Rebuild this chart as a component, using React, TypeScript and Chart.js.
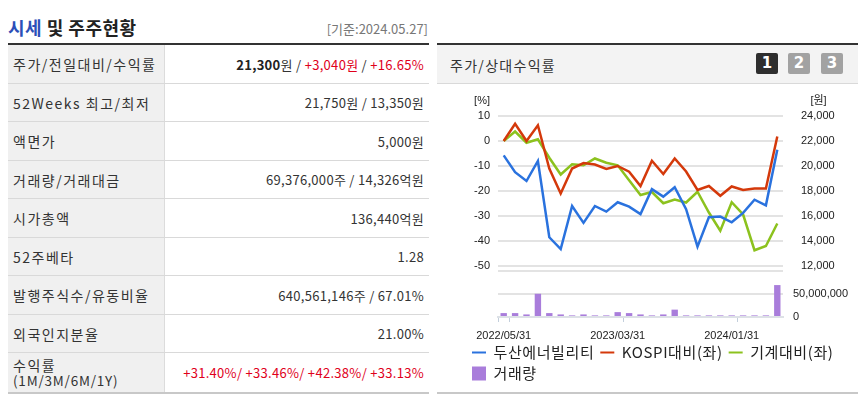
import React, { useEffect, useRef } from 'react';
import { Chart, registerables } from 'chart.js';

Chart.register(...registerables);

// ---- chart data ----
const categories = [
  '2022/05/31', '2022/06/30', '2022/07/31', '2022/08/31', '2022/09/30', '2022/10/31',
  '2022/11/30', '2022/12/31', '2023/01/31', '2023/02/28', '2023/03/31', '2023/04/30',
  '2023/05/31', '2023/06/30', '2023/07/31', '2023/08/31', '2023/09/30', '2023/10/31',
  '2023/11/30', '2023/12/31', '2024/01/31', '2024/02/29', '2024/03/31', '2024/04/30',
  '2024/05/27',
];
// 두산에너빌리티 주가 (원, right axis)
const priceWon = [
  20850, 19500, 18800, 20400, 14300, 13350, 16800, 15450, 16800, 16350, 17100, 16750,
  16150, 18150, 17550, 18300, 16550, 13550, 15900, 15950, 15500, 16250, 17300, 16850,
  21300,
];
// KOSPI대비 (%, left axis)
const kospiRel = [
  0, 6.9, 0, 6.3, -11, -21, -11, -8.8, -9.4, -11.2, -10, -12.3,
  -18, -7.9, -13.2, -7, -12.2, -19.6, -18, -21.9, -18.2, -19.6, -19, -19,
  1.8,
];
// 기계대비 (%, left axis)
const machineRel = [
  0, 3.8, -0.7, 0.7, -6.7, -13.4, -9.3, -9.7, -7, -8.7, -9.7, -15.7,
  -21.6, -20.4, -24.9, -23.4, -24.6, -20.3, -28.6, -35.9, -24.5, -29.4, -43.7, -42,
  -33,
];
// 거래량 (주)
const volume = [
  8500000, 8500000, 5600000, 50500000, 8500000, 5600000, 3500000, 5600000, 3500000, 3500000,
  10600000, 8500000, 5600000, 3500000, 5600000, 16000000, 3500000, 3500000, 3500000, 3500000,
  3500000, 3500000, 3500000, 3500000, 69400000,
];
const labeledTickIndexes = [0, 10, 20];
const seriesNames = ['두산에너빌리티', 'KOSPI대비(좌)', '기계대비(좌)', '거래량'];

// ---- table text ----
const rowLabels = [
  '주가/전일대비/수익률', '52Weeks 최고/최저', '액면가', '거래량/거래대금', '시가총액',
  '52주베타', '발행주식수/유동비율', '외국인지분율', '수익률',
];
const rowValues = [
  '', '21,750원 / 13,350원', '5,000원', '69,376,000주 / 14,326억원', '136,440억원',
  '1.28', '640,561,146주 / 67.01%', '21.00%', '+31.40%/ +33.46%/ +42.38%/ +33.13%',
];

const BLUE = '#2a72de';
const RED = '#d4390b';
const GREEN = '#8cc21e';
const PURPLE = '#a97ddb';
const GRID = '#e3e3e3';
const TXT_RED = '#e0001b';
const FONT = "'Noto Sans CJK KR', 'Noto Sans', sans-serif";
const AX_FONT = "'Liberation Sans', Arial, 'Noto Sans CJK KR', sans-serif";

const rowHeights = [38, 37, 38, 37, 38, 37, 38, 37, 39];

const unitLabels = {
  id: 'unitLabels',
  afterDraw(chart: any) {
    const { ctx, chartArea, scales } = chart;
    ctx.save();
    ctx.font = `11px ${AX_FONT}`;
    ctx.fillStyle = '#222';
    ctx.textBaseline = 'middle';
    ctx.textAlign = 'right';
    ctx.fillText('[%]', scales.y.right - 8, chartArea.top - 15);
    const w = ctx.measureText('24,000').width;
    ctx.fillText('[원]', scales.yR.left + 10 + w, chartArea.top - 15);
    ctx.restore();
  },
};

// widen legend letter spacing slightly (legend only)
const legendSpacing = {
  id: 'legendSpacing',
  beforeUpdate(chart: any) {
    const lg = chart.legend;
    if (!lg || lg._spaced) return;
    lg._spaced = true;
    const wrap = (fn: any) => function (this: any, ...args: any[]) {
      const c = chart.ctx as any;
      const prev = c.letterSpacing;
      c.letterSpacing = '0.6px';
      const r = fn.apply(lg, args);
      c.letterSpacing = prev || '0px';
      return r;
    };
    lg.fit = wrap(lg.fit);
    lg.draw = wrap(lg.draw);
  },
};

export default function App() {
  const topRef = useRef<HTMLCanvasElement>(null);
  const botRef = useRef<HTMLCanvasElement>(null);

  useEffect(() => {
    const tickFont = { family: AX_FONT, size: 11 };
    const c1 = new Chart(topRef.current as HTMLCanvasElement, {
      type: 'line',
      data: {
        labels: categories,
        datasets: [
          { label: seriesNames[0], data: priceWon, yAxisID: 'yR', borderColor: BLUE, backgroundColor: BLUE, borderWidth: 2.5, pointRadius: 0, tension: 0 },
          { label: seriesNames[1], data: kospiRel, yAxisID: 'y', borderColor: RED, backgroundColor: RED, borderWidth: 2.5, pointRadius: 0, tension: 0 },
          { label: seriesNames[2], data: machineRel, yAxisID: 'y', borderColor: GREEN, backgroundColor: GREEN, borderWidth: 2.5, pointRadius: 0, tension: 0 },
        ],
      },
      options: {
        animation: false,
        responsive: false,
        layout: { padding: { top: 30, bottom: 8, left: 0, right: 0 } },
        scales: {
          x: { display: false, offset: true },
          y: {
            position: 'left', min: -50, max: 10,
            ticks: { stepSize: 10, padding: 8, color: '#222', font: tickFont },
            grid: { color: GRID, lineWidth: 2, drawTicks: false },
            border: { display: false },
            afterFit: (s: any) => { s.width = 61; s.paddingTop = 0; s.paddingBottom = 0; },
          },
          yR: {
            position: 'right', min: 12000, max: 24000,
            ticks: { stepSize: 2000, padding: 10, color: '#222', font: tickFont },
            grid: { display: false },
            border: { display: false },
            afterFit: (s: any) => { s.width = 75; s.paddingTop = 0; s.paddingBottom = 0; },
          },
        },
        plugins: { legend: { display: false }, tooltip: { enabled: false } },
      },
      plugins: [unitLabels],
    } as any);

    const legendItems = [
      { text: seriesNames[0], pointStyle: 'line', strokeStyle: BLUE, fillStyle: BLUE, lineWidth: 2, fontColor: '#222', hidden: false },
      { text: seriesNames[1], pointStyle: 'line', strokeStyle: RED, fillStyle: RED, lineWidth: 2, fontColor: '#222', hidden: false },
      { text: seriesNames[2], pointStyle: 'line', strokeStyle: GREEN, fillStyle: GREEN, lineWidth: 2, fontColor: '#222', hidden: false },
      { text: seriesNames[3], pointStyle: 'rect', strokeStyle: PURPLE, fillStyle: PURPLE, lineWidth: 0, fontColor: '#222', hidden: false, datasetIndex: 0 },
    ];

    const c2 = new Chart(botRef.current as HTMLCanvasElement, {
      type: 'bar',
      data: {
        labels: categories,
        datasets: [
          { label: seriesNames[3], data: volume, yAxisID: 'yV', backgroundColor: PURPLE, barPercentage: 0.56, categoryPercentage: 1 },
        ],
      },
      options: {
        animation: false,
        responsive: false,
        layout: { padding: { top: 9, bottom: 0, left: 29, right: 0 } },
        scales: {
          x: {
            offset: true,
            grid: {
              offset: true, drawOnChartArea: false, drawTicks: true, tickLength: 5, lineWidth: 1,
              color: (ctx: any) => ([0, 1, 11, 21].includes(ctx.index) ? '#c3cfdc' : 'rgba(0,0,0,0)'),
            },
            border: { display: true, color: '#dde1e6', width: 2 },
            ticks: {
              autoSkip: false, maxRotation: 0, minRotation: 0, padding: 7, color: '#222', font: tickFont,
              callback: (_v: any, i: number) => (labeledTickIndexes.includes(i) ? categories[i] : ''),
            },
            afterFit: (s: any) => { s.height = 22; s.paddingLeft = 0; s.paddingRight = 0; },
          },
          yDummy: {
            position: 'left', display: true,
            ticks: { display: false }, grid: { display: false }, border: { display: false },
            afterFit: (s: any) => { s.width = 32; s.paddingTop = 0; s.paddingBottom = 0; },
          },
          yV: {
            position: 'right', min: 0, max: 100000000,
            ticks: {
              stepSize: 50000000, padding: 10, color: '#222', font: tickFont,
              callback: (v: any) => (v >= 100000000 ? '' : Number(v).toLocaleString('en-US')),
            },
            grid: { color: GRID, lineWidth: 2, drawTicks: false },
            border: { display: false },
            afterFit: (s: any) => { s.width = 75; s.paddingTop = 0; s.paddingBottom = 0; },
          },
        },
        plugins: {
          tooltip: { enabled: false },
          legend: {
            position: 'bottom', align: 'start',
            labels: {
              usePointStyle: true, pointStyleWidth: 14, boxWidth: 14, boxHeight: 14, padding: 6,
              color: '#222', font: { family: FONT, size: 15 },
              generateLabels: () => legendItems,
            },
          },
        },
      },
      plugins: [legendSpacing],
    } as any);

    return () => { c1.destroy(); c2.destroy(); };
  }, []);

  const renderValue = (i: number) => {
    if (i === 0) {
      return (
        <span>
          <b style={{ color: '#222' }}>21,300</b>원 / <span style={{ color: TXT_RED }}>+3,040원</span> / <span style={{ color: TXT_RED }}>+16.65%</span>
        </span>
      );
    }
    if (i === 8) return <span style={{ color: TXT_RED }}>{rowValues[i]}</span>;
    return <span>{rowValues[i]}</span>;
  };

  const btn = (n: string, bg: string, left: number) => (
    <div style={{
      position: 'absolute', left, top: 8, width: 22, height: 21, background: bg, borderRadius: 2,
      color: '#fff', fontWeight: 700, fontSize: 15, lineHeight: '21px', textAlign: 'center',
      fontFamily: "'DejaVu Sans', sans-serif",
    }}>{n}</div>
  );

  return (
    <div style={{ position: 'absolute', left: 0, top: 0, width: 868, height: 395, background: '#fff', fontFamily: FONT, color: '#333', overflow: 'hidden' }}>
      {/* left panel */}
      <div style={{ position: 'absolute', left: 8, top: 16, fontSize: 18, fontWeight: 700, lineHeight: '22px', letterSpacing: 0.5, color: '#222', whiteSpace: 'nowrap' }}>
        <span style={{ color: '#2b4fb8' }}>시세</span> 및 주주현황
      </div>
      <div style={{ position: 'absolute', right: 440, top: 21, fontSize: 13, lineHeight: '16px', color: '#777', whiteSpace: 'nowrap' }}>[기준:2024.05.27]</div>
      <div style={{ position: 'absolute', left: 8, top: 43, width: 421, height: 2, background: '#333' }} />
      <div style={{ position: 'absolute', left: 8, top: 45, width: 421 }}>
        {rowLabels.map((lab, i) => (
          <div key={i} style={{ display: 'flex', height: rowHeights[i], borderBottom: i === 8 ? '2px solid #c8c8c8' : '1px solid #d9d9d9' }}>
            <div style={{ width: 157, boxSizing: 'border-box', background: '#f0f0f0', borderRight: '1px solid #dcdcdc', paddingLeft: 5, display: 'flex', flexDirection: 'column', justifyContent: 'center', fontSize: 14, letterSpacing: 1.5, color: '#333', whiteSpace: 'nowrap' }}>
              {i === 8 ? (
                <>
                  <div style={{ lineHeight: '15px' }}>{lab}</div>
                  <div style={{ lineHeight: '15px', fontSize: 13.5, letterSpacing: 0.8 }}>(1M/3M/6M/1Y)</div>
                </>
              ) : lab}
            </div>
            <div style={{ flex: 1, display: 'flex', alignItems: 'center', justifyContent: 'flex-end', paddingRight: 5, fontSize: 13, letterSpacing: 0.3, whiteSpace: 'nowrap', color: '#333' }}>
              {renderValue(i)}
            </div>
          </div>
        ))}
      </div>

      {/* right panel */}
      <div style={{ position: 'absolute', left: 437, top: 43, width: 421, height: 2, background: '#333' }} />
      <div style={{ position: 'absolute', left: 437, top: 45, width: 421, height: 38, background: '#f3f3f3', borderBottom: '1px solid #d9d9d9' }}>
        <div style={{ position: 'absolute', left: 13, top: 0, lineHeight: '40px', fontSize: 14, letterSpacing: 1.3, color: '#333', whiteSpace: 'nowrap' }}>주가/상대수익률</div>
        {btn('1', '#2e2e2e', 319)}
        {btn('2', '#a2a2a2', 351)}
        {btn('3', '#a2a2a2', 384)}
      </div>
      <canvas ref={topRef} width={421} height={188} style={{ position: 'absolute', left: 437, top: 86, width: 421, height: 188 }} />
      <canvas ref={botRef} width={421} height={129} style={{ position: 'absolute', left: 437, top: 262, width: 421, height: 129 }} />
      <div style={{ position: 'absolute', left: 437, top: 392, width: 421, height: 2, background: '#c8c8c8' }} />
    </div>
  );
}
